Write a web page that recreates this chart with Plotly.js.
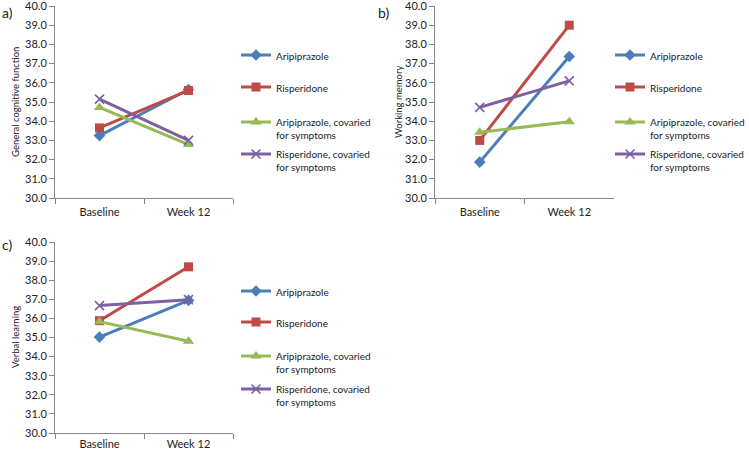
<!DOCTYPE html>
<html>
<head>
<meta charset="utf-8">
<script src="https://cdn.plot.ly/plotly-3.0.1.min.js"></script>
<style>
  html, body { margin: 0; padding: 0; background: #fff; }
  #chart { width: 749px; height: 450px; }
</style>
</head>
<body>
<div id="chart"></div>
<script>
const timepoints = ['Baseline', 'Week 12'];
const seriesNames = [
  'Aripiprazole',
  'Risperidone',
  'Aripiprazole, covaried<br>for symptoms',
  'Risperidone, covaried<br>for symptoms',
];

// a) General cognitive function
const cognitiveValues = [
  [33.25, 35.65],
  [33.65, 35.6],
  [34.72, 32.78],
  [35.15, 33.0],
];
// b) Working memory
const memoryValues = [
  [31.87, 37.37],
  [33.0, 39.0],
  [33.43, 33.97],
  [34.72, 36.1],
];
// c) Verbal learning
const learningValues = [
  [35.02, 36.94],
  [35.88, 38.7],
  [35.83, 34.8],
  [36.67, 36.98],
];

const yTickVals = [30, 31, 32, 33, 34, 35, 36, 37, 38, 39, 40];

const COLORS = ['#4a7ebb', '#be4b48', '#98b954', '#7d60a0'];
const SYMBOLS = ['diamond', 'square', 'triangle-up', 'x-thin-open'];
const SIZES = [9, 9, 10, 9];
const FONT = 'Lato, "Open Sans", sans-serif';

// one legend box per entry so the rows sit on Excel's fixed 32px pitch
const panels = [
  { values: cognitiveValues, xa: 'x', ya: 'y', legX: 236, legY: [57, 89, 124, 156] },
  { values: memoryValues, xa: 'x2', ya: 'y2', legX: 610, legY: [57, 89, 124, 156] },
  { values: learningValues, xa: 'x3', ya: 'y3', legX: 236, legY: [293, 324, 358, 391] },
];

function legendAt(xPx, yPx) {
  return {
    x: xPx / 749,
    y: 1 - yPx / 450,
    xanchor: 'left',
    yanchor: 'top',
    valign: 'top',
    bgcolor: 'rgba(0,0,0,0)',
    font: { family: FONT, size: 10, color: '#222' },
    itemwidth: 30,
  };
}

const traces = [];
const legends = {};
let legendCount = 0;
panels.forEach(p => {
  p.values.forEach((vals, i) => {
    legendCount += 1;
    const legendId = legendCount === 1 ? 'legend' : 'legend' + legendCount;
    legends[legendId] = legendAt(p.legX, p.legY[i] - 15);
    traces.push({
      type: 'scatter',
      mode: 'lines+markers',
      name: seriesNames[i],
      x: timepoints,
      y: vals,
      xaxis: p.xa,
      yaxis: p.ya,
      legend: legendId,
      line: { color: COLORS[i], width: 3 },
      marker: {
        symbol: SYMBOLS[i],
        size: SIZES[i],
        color: COLORS[i],
        line: { color: COLORS[i], width: i === 3 ? 1.6 : 0 },
      },
      hoverinfo: 'skip',
    });
  });
});

function xAxis(domain, anchor, standoff) {
  return {
    domain,
    anchor,
    type: 'category',
    range: [-0.5, 1.5],
    showgrid: false,
    zeroline: false,
    showline: true,
    linecolor: '#868686',
    linewidth: 1,
    ticks: 'outside',
    tickson: 'boundaries',
    ticklen: 5,
    tickcolor: '#868686',
    ticklabelstandoff: standoff,
    tickfont: { family: FONT, size: 11, color: '#222' },
    fixedrange: true,
  };
}

function yAxis(domain, anchor) {
  return {
    domain,
    anchor,
    range: [30, 40],
    tickvals: yTickVals,
    tickformat: '.1f',
    ticklabeloverflow: 'allow',
    showgrid: false,
    zeroline: false,
    showline: true,
    linecolor: '#868686',
    linewidth: 1,
    ticks: 'outside',
    ticklen: 5,
    tickcolor: '#868686',
    tickfont: { family: FONT, size: 11, color: '#222' },
    fixedrange: true,
  };
}

const topY = [1 - 198 / 450, 1 - 6 / 450];
const botY = [1 - 433 / 450, 1 - 242 / 450];

const textStyle = {
  xref: 'paper',
  yref: 'paper',
  showarrow: false,
};

const panelLabels = [
  { text: 'a)', x: 0, y: 1 - 2 / 450 },
  { text: 'b)', x: 376 / 749, y: 1 - 2 / 450 },
  { text: 'c)', x: 0, y: 1 - 234 / 450 },
].map(a => ({
  ...a,
  ...textStyle,
  xanchor: 'left',
  yanchor: 'top',
  font: { family: FONT, size: 14, color: '#222' },
}));

const axisTitles = [
  { text: 'General cognitive function', x: 15 / 749, y: 1 - 102 / 450 },
  { text: 'Working memory', x: 398 / 749, y: 1 - 102 / 450 },
  { text: 'Verbal learning', x: 15 / 749, y: 1 - 337 / 450 },
].map(a => ({
  ...a,
  ...textStyle,
  xanchor: 'center',
  yanchor: 'middle',
  textangle: -90,
  font: { family: FONT, size: 9.5, color: '#222' },
}));

const layout = {
  width: 749,
  height: 450,
  margin: { t: 0, r: 0, b: 0, l: 0, autoexpand: false },
  paper_bgcolor: '#fff',
  plot_bgcolor: 'rgba(0,0,0,0)',
  showlegend: true,
  font: { family: FONT, size: 11, color: '#222' },
  xaxis: xAxis([55 / 749, 233 / 749], 'y', 4),
  yaxis: yAxis(topY, 'x'),
  xaxis2: xAxis([435 / 749, 614 / 749], 'y2', 4),
  yaxis2: yAxis(topY, 'x2'),
  xaxis3: xAxis([55 / 749, 233 / 749], 'y3', 1),
  yaxis3: yAxis(botY, 'x3'),
  ...legends,
  annotations: [...panelLabels, ...axisTitles],
};

Plotly.newPlot('chart', traces, layout, { displayModeBar: false, staticPlot: true });
</script>
</body>
</html>
